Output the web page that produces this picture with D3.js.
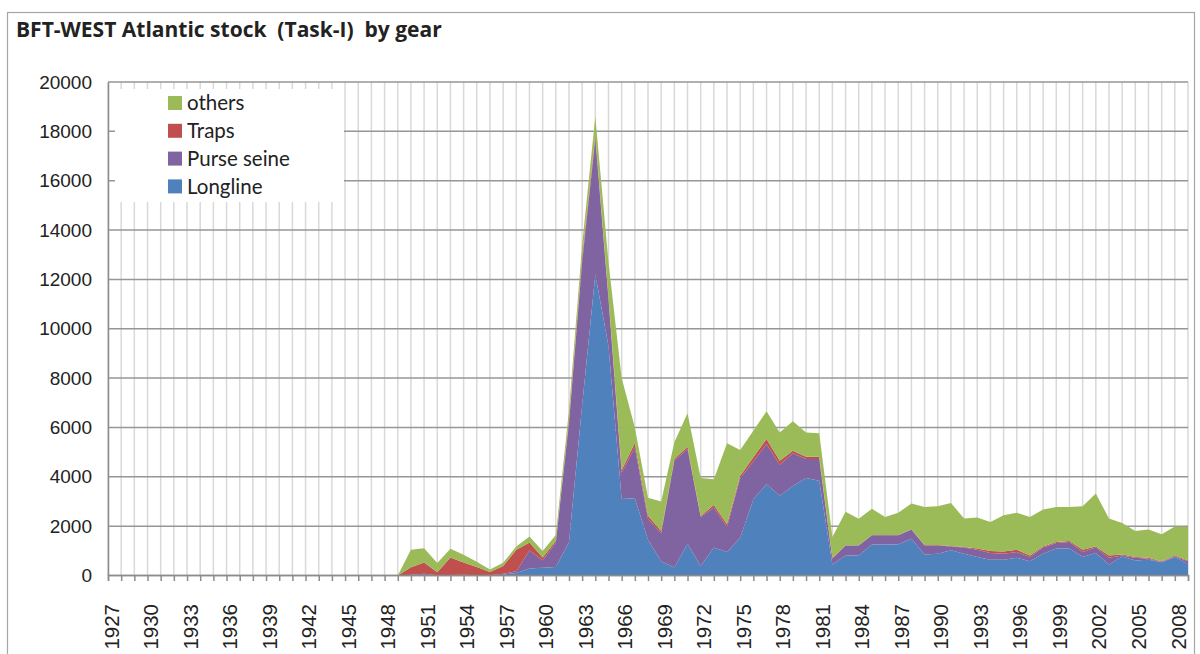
<!DOCTYPE html>
<html>
<head>
<meta charset="utf-8">
<script src="https://cdn.jsdelivr.net/npm/d3@7"></script>
<style>
  body { margin: 0; background: #fff; }
  svg { display: block; font-family: Lato, "Open Sans", sans-serif; }
  .axis-text { font-size: 19px; fill: #222; }
  .x .axis-text { font-size: 20.5px; }
  .chart-title { font-family: "Open Sans", sans-serif; font-size: 21px; font-weight: bold; fill: #222; white-space: pre; }
  .legend-text { font-size: 20.5px; fill: #222; }
</style>
</head>
<body>
<div id="chart"></div>
<script>
// categories
var years = d3.range(1927, 2010);

// series (t), 1927 .. 2009
var longline = [
    0, 0, 0, 0, 0, 0, 0, 0, 0, 0, 0, 0, 0, 0, 0, 0, 0, 0, 0, 0, 0, 0, 0,
    20, 30, 0, 10, 10, 0, 0, 30, 100, 280,
    310, 340, 1350, 6900, 12200, 9300, 3100, 3130, 1450, 580,
    320, 1290, 380, 1130, 950, 1530, 3090, 3700, 3230, 3630,
    3950, 3840, 450, 810, 810, 1260, 1260, 1260, 1490, 850,
    880, 1020, 880, 750, 640, 640, 720, 580, 880, 1090,
    1090, 750, 910, 450, 770, 610, 640, 540, 750, 480
];
var purseSeine = [
    0, 0, 0, 0, 0, 0, 0, 0, 0, 0, 0, 0, 0, 0, 0, 0, 0, 0, 0, 0, 0, 0, 0,
    10, 40, 10, 10, 20, 10, 10, 40, 70, 730,
    310, 990, 4820, 5800, 5500, 1900, 1050, 2070, 850, 1130,
    4330, 3840, 1990, 1620, 1020, 2420, 1530, 1630, 1260, 1320,
    770, 880, 230, 410, 410, 370, 370, 370, 370, 370,
    340, 160, 250, 290, 270, 240, 230, 170, 250, 230,
    270, 200, 220, 270, 40, 110, 40, 20, 20, 100
];
var traps = [
    0, 0, 0, 0, 0, 0, 0, 0, 0, 0, 0, 0, 0, 0, 0, 0, 0, 0, 0, 0, 0, 0, 0,
    300, 460, 120, 710, 500, 330, 130, 310, 870, 330,
    110, 80, 130, 200, 150, 100, 130, 170, 120, 90,
    70, 90, 40, 110, 110, 90, 170, 200, 160, 110,
    90, 90, 40, 10, 10, 10, 10, 10, 10, 20,
    20, 20, 20, 50, 80, 90, 90, 60, 50, 40,
    40, 90, 50, 90, 40, 30, 40, 20, 40, 30
];
var others = [
    0, 0, 0, 0, 0, 0, 0, 0, 0, 0, 0, 0, 0, 0, 0, 0, 0, 0, 0, 0, 0, 0, 0,
    710, 570, 380, 350, 310, 220, 100, 140, 140, 240,
    260, 230, 400, 500, 750, 1400, 3720, 630, 730, 1200,
    680, 1360, 1540, 1040, 3280, 1050, 1080, 1130, 1150, 1190,
    990, 950, 840, 1350, 1070, 1070, 730, 900, 1050, 1540,
    1570, 1740, 1160, 1260, 1180, 1470, 1500, 1560, 1490, 1420,
    1380, 1770, 2140, 1500, 1280, 1050, 1140, 1090, 1180, 1360
];

var seriesNames = ["Longline", "Purse seine", "Traps", "others"];
var seriesColors = ["#4f81bd", "#8064a2", "#c0504d", "#9bbb59"];
var yTicks = [0, 2000, 4000, 6000, 8000, 10000, 12000, 14000, 16000, 18000, 20000];
var tickLabels = years.filter(function(d, i) { return i % 3 === 0; });

var W = 1200, H = 654;
var margin = {top: 82, right: 12, bottom: 79, left: 108},
    width = W - margin.left - margin.right,
    height = H - margin.top - margin.bottom;

var table = years.map(function(y, i) {
    return {year: y, "Longline": longline[i], "Purse seine": purseSeine[i],
            "Traps": traps[i], "others": others[i]};
});

var stack = d3.stack().keys(seriesNames);
var layers = stack(table);

var x = d3.scalePoint().domain(years).range([0, width]);
var y = d3.scaleLinear().domain([0, 20000]).range([height + 0.5, 0]);

var svg = d3.select("#chart").append("svg")
    .attr("width", W)
    .attr("height", H);

// outer border
svg.append("rect")
    .attr("x", 7.5).attr("y", 12.5)
    .attr("width", 1187).attr("height", 660)
    .attr("fill", "none")
    .attr("stroke", "#a6a6a6")
    .attr("stroke-width", 1.2);

svg.append("text")
    .attr("x", 16)
    .attr("y", 37)
    .attr("class", "chart-title")
    .attr("xml:space", "preserve")
    .text("BFT-WEST Atlantic stock  (Task-I)  by gear");

var g = svg.append("g")
    .attr("transform", "translate(" + margin.left + "," + margin.top + ")");

// vertical gridlines, one per year
g.append("g")
    .selectAll("line")
    .data(years)
    .enter().append("line")
    .attr("x1", function(d) { return x(d); })
    .attr("x2", function(d) { return x(d); })
    .attr("y1", 0)
    .attr("y2", height)
    .attr("stroke", "#d9d9d9")
    .attr("stroke-width", 1.5);

// horizontal gridlines
g.append("g")
    .selectAll("line")
    .data(yTicks)
    .enter().append("line")
    .attr("x1", 0)
    .attr("x2", width)
    .attr("y1", function(d) { return y(d); })
    .attr("y2", function(d) { return y(d); })
    .attr("stroke", "#969696")
    .attr("stroke-width", 1.5);

// stacked areas
var area = d3.area()
    .x(function(d) { return x(d.data.year); })
    .y0(function(d) { return y(d[0]); })
    .y1(function(d) { return y(d[1]); });

g.append("g")
    .selectAll("path")
    .data(layers)
    .enter().append("path")
    .attr("d", area)
    .attr("fill", function(d, i) { return seriesColors[i]; });

// y axis
var yAxis = d3.axisLeft(y).tickValues(yTicks).tickFormat(d3.format("d")).tickSize(0).tickPadding(16);
g.append("g")
    .attr("class", "y axis")
    .call(yAxis)
    .call(function(s) {
        s.select(".domain").attr("stroke", "#8c8c8c").attr("stroke-width", 1.5);
        s.selectAll("text").attr("class", "axis-text").attr("font-size", null).attr("font-family", null);
    });

// x axis
var xAxis = d3.axisBottom(x)
    .tickSize(6)
    .tickFormat(function(d) { return tickLabels.indexOf(d) >= 0 ? d : ""; });

g.append("g")
    .attr("class", "x axis")
    .attr("transform", "translate(0," + height + ")")
    .call(xAxis)
    .call(function(s) {
        s.select(".domain").attr("stroke", "#8c8c8c").attr("stroke-width", 1.5);
        s.selectAll(".tick line").attr("stroke", "#8c8c8c").attr("stroke-width", 1.5);
        s.selectAll("text")
            .attr("class", "axis-text")
            .attr("font-size", null).attr("font-family", null)
            .style("text-anchor", "end")
            .attr("x", 0)
            .attr("y", 3)
            .attr("dx", "-29px")
            .attr("dy", "0.35em")
            .attr("transform", "rotate(-90)");
    });

// legend
var legend = svg.append("g").attr("transform", "translate(115,89)");
legend.append("rect")
    .attr("width", 229).attr("height", 113)
    .attr("fill", "#fff");

var legendItems = legend.selectAll("g.item")
    .data(seriesNames.slice().reverse())
    .enter().append("g")
    .attr("class", "item")
    .attr("transform", function(d, i) { return "translate(53," + (14 + i * 27.8) + ")"; });

legendItems.append("rect")
    .attr("x", 0).attr("y", -7)
    .attr("width", 14).attr("height", 14)
    .attr("fill", function(d) { return seriesColors[seriesNames.indexOf(d)]; });

legendItems.append("text")
    .attr("x", 19)
    .attr("y", 0)
    .attr("dy", "0.35em")
    .attr("class", "legend-text")
    .text(function(d) { return d; });
</script>
</body>
</html>
